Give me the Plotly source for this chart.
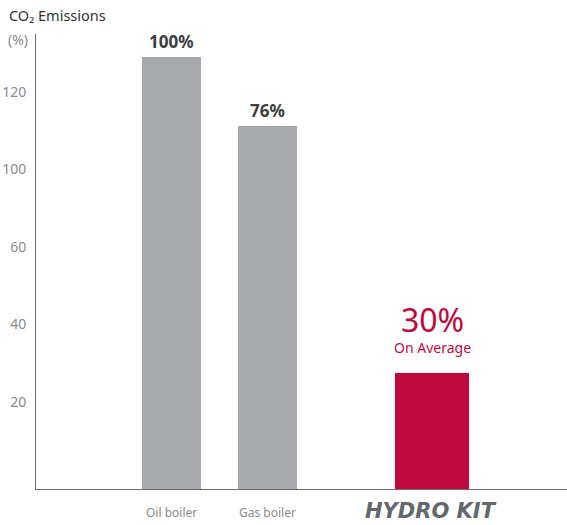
import plotly.graph_objects as go

# ---- data ----
categories = ["Oil boiler", "Gas boiler", "HYDRO KIT"]
bar_heights = [111.5, 93.7, 30.0]          # heights read on the drawn axis scale
value_labels = ["100%", "76%", "30%"]
sub_label = "On Average"
tick_positions = [22.45, 42.45, 62.45, 82.45, 102.45]
tick_labels = ["20", "40", "60", "100", "120"]

# ---- layout helpers (pixel-like x units) ----
x_centers = [135.5, 231.5, 396.0]
bar_widths = [59, 59, 74]
colors = ["#a7a8ab", "#a7a8ab", "#c1093c"]
FONT = "Noto Sans"

fig = go.Figure()
fig.add_trace(go.Bar(
    x=x_centers, y=bar_heights, width=bar_widths,
    marker=dict(color=colors, line=dict(width=0)),
    hoverinfo="skip", showlegend=False,
))

annotations = []
# value labels for gray bars
for i in range(2):
    annotations.append(dict(
        x=x_centers[i], y=bar_heights[i], xref="x", yref="y",
        text="<b>%s</b>" % value_labels[i], showarrow=False,
        yanchor="bottom", yshift=2,
        font=dict(family=FONT, size=17, color="#3d3d3d"),
    ))
# hydro kit labels
annotations.append(dict(
    x=x_centers[2], y=bar_heights[2], xref="x", yref="y",
    text=sub_label, showarrow=False, yanchor="bottom", yshift=14,
    font=dict(family=FONT, size=14, color="#c1093c"),
))
annotations.append(dict(
    x=x_centers[2], y=bar_heights[2], xref="x", yref="y",
    text=value_labels[2], showarrow=False, yanchor="bottom", yshift=30,
    font=dict(family=FONT, size=32, color="#c1093c"),
))
# x category labels
for i in range(2):
    annotations.append(dict(
        x=x_centers[i], y=0, xref="x", yref="y",
        text=categories[i], showarrow=False, yanchor="middle", yshift=-23,
        font=dict(family=FONT, size=12, color="#8a8a8a"),
    ))
annotations.append(dict(
    x=x_centers[2] - 1, y=0, xref="x", yref="y",
    text="<b><i>%s</i></b>" % categories[2], showarrow=False,
    yanchor="middle", yshift=-22,
    font=dict(family="DejaVu Sans", size=21, color="#62686c"),
))
# axis title pieces
annotations.append(dict(
    x=(7 - 36) / 531, y=(489 - 15) / 455, xref="paper", yref="paper",
    text="CO₂ Emissions", showarrow=False, xanchor="left", yanchor="middle",
    font=dict(family=FONT, size=14.5, color="#333333"),
))
annotations.append(dict(
    x=(30 - 36) / 531, y=(489 - 40) / 455, xref="paper", yref="paper",
    text="(%)", showarrow=False, xanchor="right", yanchor="middle",
    font=dict(family=FONT, size=14, color="#8a8a8a"),
))

fig.update_layout(
    width=567, height=525,
    margin=dict(l=36, r=0, t=34, b=36, autoexpand=False),
    paper_bgcolor="white", plot_bgcolor="white",
    bargap=0,
    annotations=annotations,
    xaxis=dict(range=[0, 531], showgrid=False, zeroline=False,
               showticklabels=False, ticks="", showline=True,
               linecolor="#6b6b6b", linewidth=1, fixedrange=True,
               automargin=False),
    yaxis=dict(range=[0, 117.4], showgrid=False, zeroline=False,
               tickvals=tick_positions, ticktext=tick_labels, ticks="",
               ticklabelstandoff=6,
               tickfont=dict(family=FONT, size=14, color="#8a8a8a"),
               showline=True, linecolor="#6b6b6b", linewidth=1,
               fixedrange=True, automargin=False),
)

fig.write_html(
    "out.html",
    config={"displayModeBar": False},
    post_script="document.body.style.margin='0';document.body.style.overflow='hidden';",
)
